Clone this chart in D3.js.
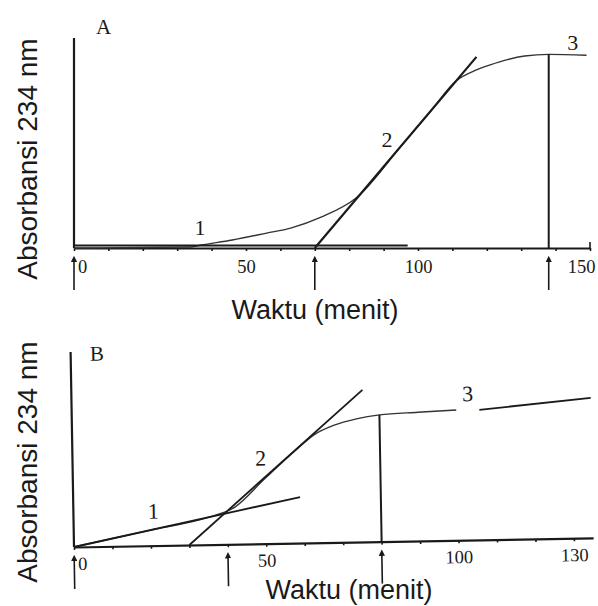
<!DOCTYPE html>
<html lang="id">
<head>
  <meta charset="UTF-8">
  <title>Absorbansi 234 nm vs Waktu</title>
  <script src="https://cdn.jsdelivr.net/npm/d3@7"></script>
  <style>
    body { margin: 0; background: #fff; }
    svg { display: block; }
  </style>
</head>
<body>
<div id="grafica"></div>

<script>
// ---- panel A ----
const ticksA = [0, 50, 100, 150]
const kurvaWaktuA = [0, 34, 37, 46, 56, 63, 72, 82, 95, 104, 111, 117, 121, 126, 131, 138, 149]
const kurvaAbsA = [0, 0.005, 0.014, 0.038, 0.071, 0.095, 0.148, 0.238, 0.484, 0.658, 0.795, 0.848, 0.872, 0.897, 0.914, 0.922, 0.918]
const garis1WaktuA = [0, 97]
const garis1AbsA = [0.012, 0.012]
const garis2WaktuA = [70, 117]
const garis2AbsA = [0, 0.91]
const panahA = [0, 70, 138]          // arrows under the axis
const tegakA = {waktu: 138, abs: 0.922}
const labelA = ['1', '2', '3']
const labelWaktuA = [36.6, 91, 145]
const labelAbsA = [0.062, 0.48, 0.943]

// ---- panel B ----
const ticksB = [0, 50, 100, 130]
const kurvaWaktuB = [0, 20, 35, 42, 50, 58, 63, 68, 74, 80, 90, 100]
const kurvaAbsB = [0, 0.08, 0.14, 0.19, 0.335, 0.475, 0.555, 0.6, 0.632, 0.65, 0.66, 0.668]
const garis1WaktuB = [0, 59]
const garis1AbsB = [0, 0.236]
const garis2WaktuB = [30, 75.7]
const garis2AbsB = [0, 0.78]
const garis3WaktuB = [106, 135]
const garis3AbsB = [0.667, 0.718]
const panahB = [0, 40, 80]
const tegakB = {waktu: 80, abs: 0.65}
const labelB = ['1', '2', '3']
const labelWaktuB = [20.8, 48.9, 103]
const labelAbsB = [0.138, 0.4, 0.713]

const serif = '"Liberation Serif", "DejaVu Serif", serif'
const sans = '"Liberation Sans", Arial, sans-serif'
const ink = '#1a1a1a'

svg = d3.select('#grafica')
  .append('svg')
  .attr('width', 598)
  .attr('height', 606)

svg.append('rect').attr('width', 598).attr('height', 606).attr('fill', '#fff')

svg.append('defs')
  .append('marker')
    .attr('id', 'panah')
    .attr('viewBox', '0 0 10 10')
    .attr('refX', 5).attr('refY', 5)
    .attr('markerWidth', 4).attr('markerHeight', 4)
    .attr('orient', 'auto')
  .append('path')
    .attr('d', 'M0,0 L10,5 L0,10 z')
    .attr('fill', ink)

function zip(a, b) { return a.map((d, i) => [d, b[i]]) }

function drawPanel(p) {
  x = d3.scaleLinear().domain([0, p.xMax]).range(p.xRange)
  y = d3.scaleLinear().domain([0, 1]).range(p.yRange)
  line = d3.line().x(d => x(d[0])).y(d => y(d[1]))

  g = svg.append('g')
  if (p.tilt) g.attr('transform', `rotate(${p.tilt}, ${x(0)}, ${y(0)})`)

  // x axis, small tick every 10 min
  ax = g.append('g')
    .attr('transform', `translate(0, ${y(0)})`)
    .call(d3.axisBottom(x)
      .tickValues(d3.range(0, p.xMax + 1, 10))
      .tickSize(3)
      .tickSizeOuter(0)
      .tickFormat(d => p.ticks.includes(d) ? d : ''))
  ax.select('.domain').attr('stroke', ink).attr('stroke-width', 2.2)
  ax.selectAll('.tick line').attr('stroke', ink).attr('stroke-width', 1.6)
  ax.selectAll('.tick text')
    .attr('y', p.labelGap).attr('dy', 0)
    .attr('dx', d => p.tickShift[d] || 0)
    .attr('fill', ink)
    .style('font-family', serif)
    .style('font-size', '18.5px')
  // closing tick at the end of axis A points up
  if (p.ujungAtas) {
    g.append('line')
      .attr('x1', x(p.xMax)).attr('x2', x(p.xMax))
      .attr('y1', y(0)).attr('y2', y(0) - 6)
      .attr('stroke', ink).attr('stroke-width', 1.6)
  }

  // y axis, no ticks
  g.append('line')
    .attr('x1', x(0)).attr('x2', x(0))
    .attr('y1', y(0)).attr('y2', y(1))
    .attr('stroke', ink).attr('stroke-width', 2.2)

  // smooth curve
  g.append('path')
    .datum(zip(p.kurvaWaktu, p.kurvaAbs))
    .attr('d', line.curve(d3.curveMonotoneX))
    .attr('fill', 'none').attr('stroke', '#333').attr('stroke-width', 1.4)
  line.curve(d3.curveLinear)

  // tangent lines
  p.garis.forEach(l => {
    g.append('path')
      .datum(zip(l[0], l[1]))
      .attr('d', line)
      .attr('fill', 'none').attr('stroke', ink).attr('stroke-width', l[2])
  })

  // vertical drop
  g.append('line')
    .attr('x1', x(p.tegak.waktu)).attr('x2', x(p.tegak.waktu))
    .attr('y1', y(p.tegak.abs)).attr('y2', y(0))
    .attr('stroke', ink).attr('stroke-width', 2)

  // arrows under the axis
  g.selectAll('.panah')
    .data(p.panah)
    .enter()
    .append('line')
      .attr('x1', d => x(d)).attr('x2', d => x(d))
      .attr('y1', y(0) + 42).attr('y2', y(0) + 11)
      .attr('stroke', ink).attr('stroke-width', 1.6)
      .attr('marker-end', 'url(#panah)')

  // curve numbers
  g.selectAll('.nomor')
    .data(p.label)
    .enter()
    .append('text')
      .attr('x', (d, i) => x(p.labelWaktu[i]))
      .attr('y', (d, i) => y(p.labelAbs[i]))
      .attr('text-anchor', 'middle')
      .attr('fill', ink)
      .style('font-family', serif)
      .style('font-size', '22px')
      .text(d => d)

  // panel letter
  g.append('text')
    .attr('x', x(p.huruf[1])).attr('y', y(p.huruf[2]))
    .attr('text-anchor', 'middle')
    .attr('fill', ink)
    .style('font-family', serif)
    .style('font-size', '21px')
    .text(p.huruf[0])

  // axis titles
  svg.append('text')
    .attr('x', p.judulX[0]).attr('y', p.judulX[1])
    .attr('text-anchor', 'middle')
    .attr('fill', ink)
    .style('font-family', sans)
    .style('font-size', '27px')
    .text('Waktu (menit)')

  svg.append('text')
    .attr('transform', `translate(${p.judulY[0]}, ${p.judulY[1]}) rotate(-90)`)
    .attr('text-anchor', 'middle')
    .attr('fill', ink)
    .style('font-family', sans)
    .style('font-size', '28px')
    .text('Absorbansi 234 nm')
}

drawPanel({
  xMax: 150, xRange: [74, 590], yRange: [248, 38], ujungAtas: true,
  ticks: ticksA, tickShift: {0: 8, 150: -9}, labelGap: 25,
  kurvaWaktu: kurvaWaktuA, kurvaAbs: kurvaAbsA,
  garis: [[garis1WaktuA, garis1AbsA, 2.2], [garis2WaktuA, garis2AbsA, 2.2]],
  tegak: tegakA, panah: panahA,
  label: labelA, labelWaktu: labelWaktuA, labelAbs: labelAbsA,
  huruf: ['A', 8.6, 1.02],
  judulX: [315, 319], judulY: [37, 159]
})

drawPanel({
  xMax: 135, xRange: [74, 593.2], yRange: [547, 352], tilt: -1,
  ticks: ticksB, tickShift: {0: 8}, labelGap: 23,
  kurvaWaktu: kurvaWaktuB, kurvaAbs: kurvaAbsB,
  garis: [[garis1WaktuB, garis1AbsB, 1.8], [garis2WaktuB, garis2AbsB, 1.8], [garis3WaktuB, garis3AbsB, 1.8]],
  tegak: tegakB, panah: panahB,
  label: labelB, labelWaktu: labelWaktuB, labelAbs: labelAbsB,
  huruf: ['B', 6.8, 0.954],
  judulX: [349, 599], judulY: [37, 462]
})
</script>
</body>
</html>
